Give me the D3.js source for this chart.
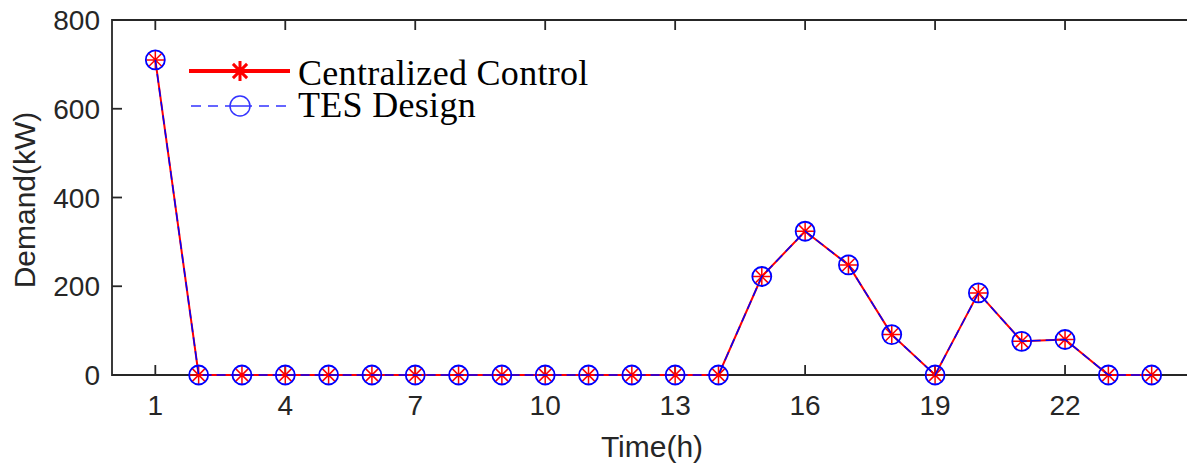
<!DOCTYPE html>
<html>
<head>
<meta charset="utf-8">
<script src="https://cdn.jsdelivr.net/npm/d3@7"></script>
<style>
  body { margin: 0; background: #fff; }
  svg { display: block; }
</style>
</head>
<body>
<div id="chart"></div>
<script>
// data
const hours = [1, 2, 3, 4, 5, 6, 7, 8, 9, 10, 11, 12, 13, 14, 15, 16, 17, 18, 19, 20, 21, 22, 23, 24]
const centralized = [710, 0, 0, 0, 0, 0, 0, 0, 0, 0, 0, 0, 0, 0, 222, 324, 248, 91, 0, 185, 76, 80, 0, 0]
const tesDesign = [710, 0, 0, 0, 0, 0, 0, 0, 0, 0, 0, 0, 0, 0, 222, 324, 248, 91, 0, 185, 76, 80, 0, 0]
const xTicks = [1, 4, 7, 10, 13, 16, 19, 22]
const yTicks = [0, 200, 400, 600, 800]

const width = 1187
const height = 465
const axisColor = "#262626"

const svg = d3.select("#chart")
    .append("svg")
    .attr("width", width)
    .attr("height", height)

// plot box (right edge lies past the window, as in the figure)
const pLeft = 112, pTop = 20, pRight = 1195, pBottom = 375

const x = d3.scaleLinear().domain([0, 25]).range([pLeft, pRight])
const y = d3.scaleLinear().domain([0, 800]).range([pBottom, pTop])

// frame
svg.append("path")
    .attr("d", `M${pRight},${pTop}H${pLeft}V${pBottom}H${pRight}`)
    .style("fill", "none")
    .style("stroke", axisColor)
    .style("stroke-width", 1.8)

// ticks (inward)
svg.append("g").selectAll("line")
    .data(xTicks).enter().append("line")
    .attr("x1", d => x(d)).attr("x2", d => x(d))
    .attr("y1", pBottom).attr("y2", pBottom - 10)
    .style("stroke", axisColor).style("stroke-width", 1.8)
svg.append("g").selectAll("line")
    .data(xTicks).enter().append("line")
    .attr("x1", d => x(d)).attr("x2", d => x(d))
    .attr("y1", pTop).attr("y2", pTop + 10)
    .style("stroke", axisColor).style("stroke-width", 1.8)
svg.append("g").selectAll("line")
    .data(yTicks).enter().append("line")
    .attr("x1", pLeft).attr("x2", pLeft + 10)
    .attr("y1", d => y(d)).attr("y2", d => y(d))
    .style("stroke", axisColor).style("stroke-width", 1.8)

// tick labels
svg.append("g").selectAll("text")
    .data(xTicks).enter().append("text")
    .attr("x", d => x(d))
    .attr("y", pBottom + 40)
    .attr("text-anchor", "middle")
    .style("font-family", "Liberation Sans, Arial, sans-serif")
    .style("font-size", "28px")
    .style("fill", axisColor)
    .text(d => d)
svg.append("g").selectAll("text")
    .data(yTicks).enter().append("text")
    .attr("x", pLeft - 12)
    .attr("y", d => y(d) + 10)
    .attr("text-anchor", "end")
    .style("font-family", "Liberation Sans, Arial, sans-serif")
    .style("font-size", "28px")
    .style("fill", axisColor)
    .text(d => d)

// axis titles
svg.append("text")
    .attr("x", 652)
    .attr("y", 457)
    .attr("text-anchor", "middle")
    .style("font-family", "Liberation Sans, Arial, sans-serif")
    .style("font-size", "30px")
    .style("fill", axisColor)
    .text("Time(h)")
svg.append("text")
    .attr("transform", `translate(35,200) rotate(-90)`)
    .attr("text-anchor", "middle")
    .style("font-family", "Liberation Sans, Arial, sans-serif")
    .style("font-size", "30px")
    .style("fill", axisColor)
    .text("Demand(kW)")

const line = d3.line().x(d => x(d[0])).y(d => y(d[1]))
const cData = hours.map((h, i) => [h, centralized[i]])
const tData = hours.map((h, i) => [h, tesDesign[i]])

// asterisk marker path
function star(r) {
    let p = ""
    for (let k = 0; k < 4; k++) {
        const a = k * Math.PI / 4
        const dx = r * Math.cos(a), dy = r * Math.sin(a)
        p += `M${-dx},${-dy}L${dx},${dy}`
    }
    return p
}

// centralized control: solid red
svg.append("path")
    .datum(cData)
    .attr("d", line)
    .style("fill", "none")
    .style("stroke", "#ff0000")
    .style("stroke-width", 2)
svg.append("g").selectAll("path")
    .data(cData).enter().append("path")
    .attr("transform", d => `translate(${x(d[0])},${y(d[1])})`)
    .attr("d", star(9))
    .style("stroke", "#ff0000")
    .style("stroke-width", 1.5)

// TES design: dashed blue
svg.append("path")
    .datum(tData)
    .attr("d", line)
    .style("fill", "none")
    .style("stroke", "#0000ff")
    .style("stroke-width", 1.5)
    .style("stroke-dasharray", "9,5")
svg.append("g").selectAll("circle")
    .data(tData).enter().append("circle")
    .attr("cx", d => x(d[0]))
    .attr("cy", d => y(d[1]))
    .attr("r", 9.5)
    .style("fill", "none")
    .style("stroke", "#0000ff")
    .style("stroke-width", 1.8)

// legend
const lg = svg.append("g")
lg.append("line")
    .attr("x1", 189).attr("x2", 290).attr("y1", 71).attr("y2", 71)
    .style("stroke", "#ff0000").style("stroke-width", 4)
lg.append("path")
    .attr("transform", "translate(240,71)")
    .attr("d", star(10))
    .style("stroke", "#ff0000").style("stroke-width", 3)
lg.append("line")
    .attr("x1", 191).attr("x2", 290).attr("y1", 106).attr("y2", 106)
    .style("stroke", "#3333ff").style("stroke-width", 1.5)
    .style("stroke-dasharray", "10,7")
lg.append("circle")
    .attr("cx", 240).attr("cy", 106).attr("r", 10)
    .style("fill", "#fff")
    .style("stroke", "#3333ff").style("stroke-width", 1.5)
lg.append("line")
    .attr("x1", 230).attr("x2", 250).attr("y1", 106).attr("y2", 106)
    .style("stroke", "#3333ff").style("stroke-width", 1.5)
lg.selectAll("text")
    .data(["Centralized Control", "TES Design"])
    .enter().append("text")
    .attr("x", 298)
    .attr("y", (d, i) => 85 + i * 32)
    .style("font-family", "Liberation Serif, Times New Roman, serif")
    .style("font-size", "36px")
    .style("letter-spacing", "0.3px")
    .style("fill", "#000")
    .text(d => d)
</script>
</body>
</html>
